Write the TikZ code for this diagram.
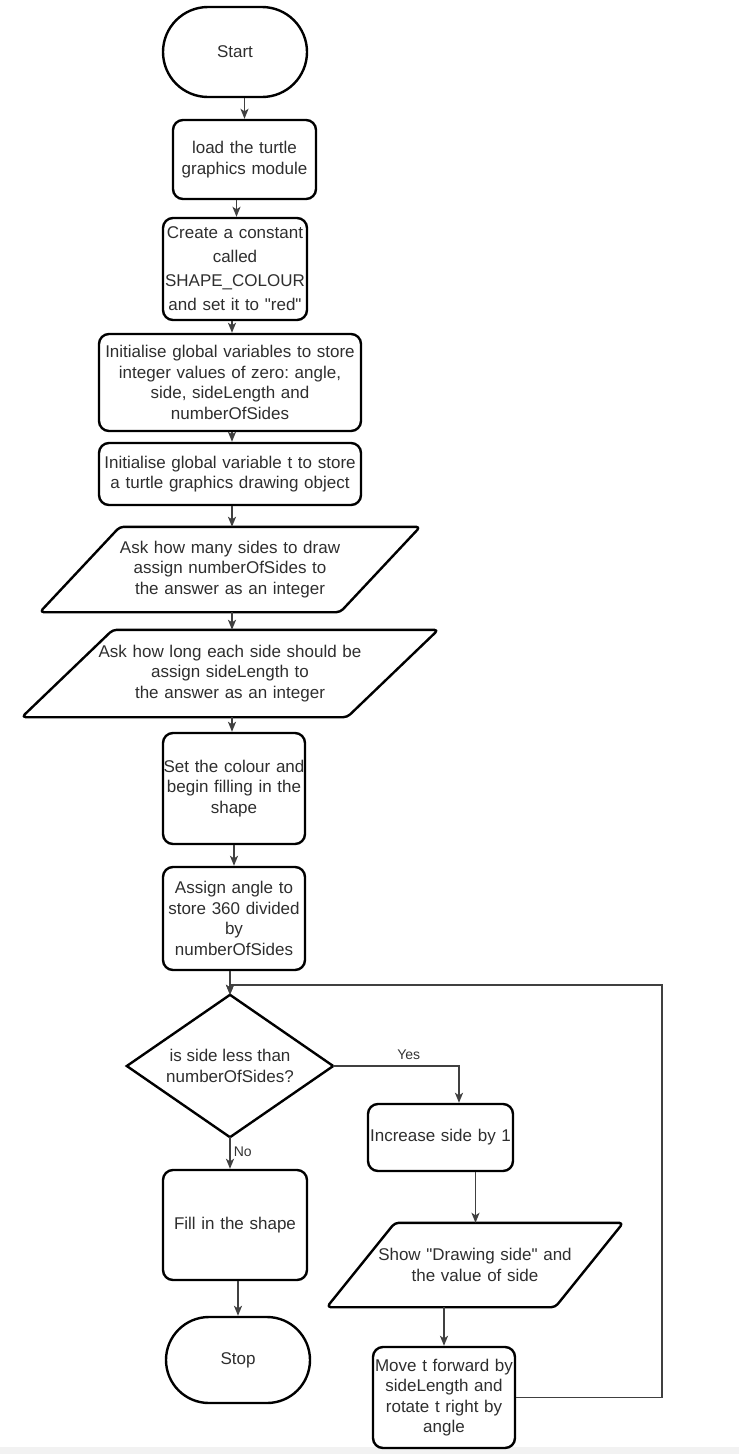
\documentclass[tikz,border=0pt]{standalone}
\usepackage{fontspec}
\setmainfont{Liberation Sans}[Ligatures=TeXOff]
\usetikzlibrary{arrows.meta}
\newcommand{\dq}{\symbol{34}}
\newcommand{\wideline}[1]{\makebox[\linewidth][c]{#1}}
\frenchspacing
\begin{document}
\begin{tikzpicture}[x=1pt,y=-1pt,
  txt/.style={text=black!82, font=\fontsize{17}{20.5}\selectfont, align=center},
  proc/.style={txt, draw=black, line width=2.4pt, rectangle, rounded corners=10pt, inner xsep=2pt, inner ysep=0pt},
  term/.style={txt, draw=black, line width=2.4pt, rectangle, rounded corners=#1, inner sep=0pt},
  ghost/.style={txt, rectangle, draw=none, inner sep=0pt},
  outline/.style={draw=black, line width=2.4pt, rounded corners=4pt, line join=round},
  dmd/.style={draw=black, line width=2.4pt, line join=miter},
  arr/.style={draw=black!75, line width=1.5pt, -{Stealth[length=10pt,width=8pt,inset=2.5pt]}},
  lbl/.style={text=black!80, font=\fontsize{14}{17}\selectfont, inner sep=0pt},
]
\useasboundingbox (0,0) rectangle (739,1454);
\fill[black!5] (0,1447) rectangle (739,1454);

% column coordinate for main arrows
\coordinate (colx) at (232,0);

% nodes
\node[term=45pt, minimum width=144pt, minimum height=90pt] (start) at (235,52) {Start};
\node[proc, minimum width=143pt, minimum height=79pt, text width=139pt] (load) at (244.5,159.5) {load the turtle\\graphics module};
\node[proc, minimum width=144pt, minimum height=102pt, text width=140pt, font=\fontsize{17}{24}\selectfont] (const) at (235,269) {\wideline{Create a constant}\\called\\\wideline{SHAPE\_COLOUR}\\and set it to "red"};
\node[proc, minimum width=262pt, minimum height=97pt, text width=258pt] (vars) at (230,382.5) {Initialise global variables to store\\integer values of zero: angle,\\side, sideLength and\\numberOfSides};
\node[proc, minimum width=262pt, minimum height=62pt, text width=258pt] (tobj) at (230,474) {Initialise global variable t to store\\a turtle graphics drawing object};

\node[ghost, minimum width=380pt, minimum height=85pt, text width=300pt] (p1) at (230,569.5) {Ask how many sides to draw\\assign numberOfSides to\\ the answer as an integer};
\draw[outline] (p1.north) -- (p1.north east) -- ([xshift=-80pt]p1.south east) -- (p1.south west) -- ([xshift=80pt]p1.north west) -- cycle;

\node[ghost, minimum width=416pt, minimum height=87pt, text width=320pt] (p2) at (230,673.5) {Ask how long each side should be\\assign sideLength to\\ the answer as an integer};
\draw[outline] (p2.north) -- (p2.north east) -- ([xshift=-91pt]p2.south east) -- (p2.south west) -- ([xshift=91pt]p2.north west) -- cycle;

\node[proc, minimum width=142pt, minimum height=111pt, text width=138pt] (setc) at (234,788.5) {\wideline{Set the colour and}\\\wideline{begin filling in the}\\shape};
\node[proc, minimum width=142pt, minimum height=103pt, text width=138pt] (assign) at (234,918.5) {Assign angle to\\\wideline{store 360 divided}\\by\\numberOfSides};

\node[ghost, minimum width=206pt, minimum height=142pt] (dec) at (230,1066) {is side less than\\numberOfSides?};
\draw[dmd] (dec.north) -- (dec.east) -- (dec.south) -- (dec.west) -- cycle;

\node[proc, minimum width=145pt, minimum height=67pt, text width=141pt] (inc) at (440.5,1137.5) {\wideline{Increase side by 1}};

\node[ghost, minimum width=296pt, minimum height=84pt, text width=230pt] (p3) at (475,1265) {Show "Drawing side" and\\the value of side};
\draw[outline] (p3.north) -- (p3.north east) -- ([xshift=-68pt]p3.south east) -- (p3.south west) -- ([xshift=68pt]p3.north west) -- cycle;

\node[proc, minimum width=142pt, minimum height=101pt, text width=138pt] (move) at (444,1397.5) {\wideline{Move t forward by}\\sideLength and\\rotate t right by\\angle};

\node[proc, minimum width=144pt, minimum height=110pt, text width=140pt] (fill) at (235,1225) {Fill in the shape};
\node[term=43pt, minimum width=144pt, minimum height=86pt] (stop) at (238,1360) {Stop};

\coordinate (loopc) at (662,985);

% connectors
\draw[arr] (start.south -| load.north) -- (load.north);
\draw[arr] ([xshift=-8pt]load.south) -- ([xshift=-8pt]load.south |- const.north);
\draw[arr] (const.south -| colx) -- (vars.north -| colx);
\draw[arr] (vars.south -| colx) -- (tobj.north -| colx);
\draw[arr] (tobj.south -| colx) -- (p1.north -| colx);
\draw[arr] (p1.south -| colx) -- (p2.north -| colx);
\draw[arr] (p2.south -| colx) -- (setc.north -| colx);
\draw[arr] (setc.south) -- (assign.north);
\draw[arr] (assign.south -| dec.north) -- (dec.north);
\draw[arr] (dec.east) -| ([xshift=18.5pt]inc.north) node[lbl, pos=0.3, above=6pt] {Yes};
\draw[arr] ([xshift=35pt]inc.south) -- ([xshift=35pt]inc.south |- p3.north);
\draw[arr] (p3.south -| move.north) -- (move.north);
\draw[arr] (move.east) -| (loopc) -| (dec.north);
\draw[arr] (dec.south) -- (fill.north -| dec.south) node[lbl, pos=0.45, right=3pt] {No};
\draw[arr] (fill.south -| stop.north) -- (stop.north);
\end{tikzpicture}
\end{document}
